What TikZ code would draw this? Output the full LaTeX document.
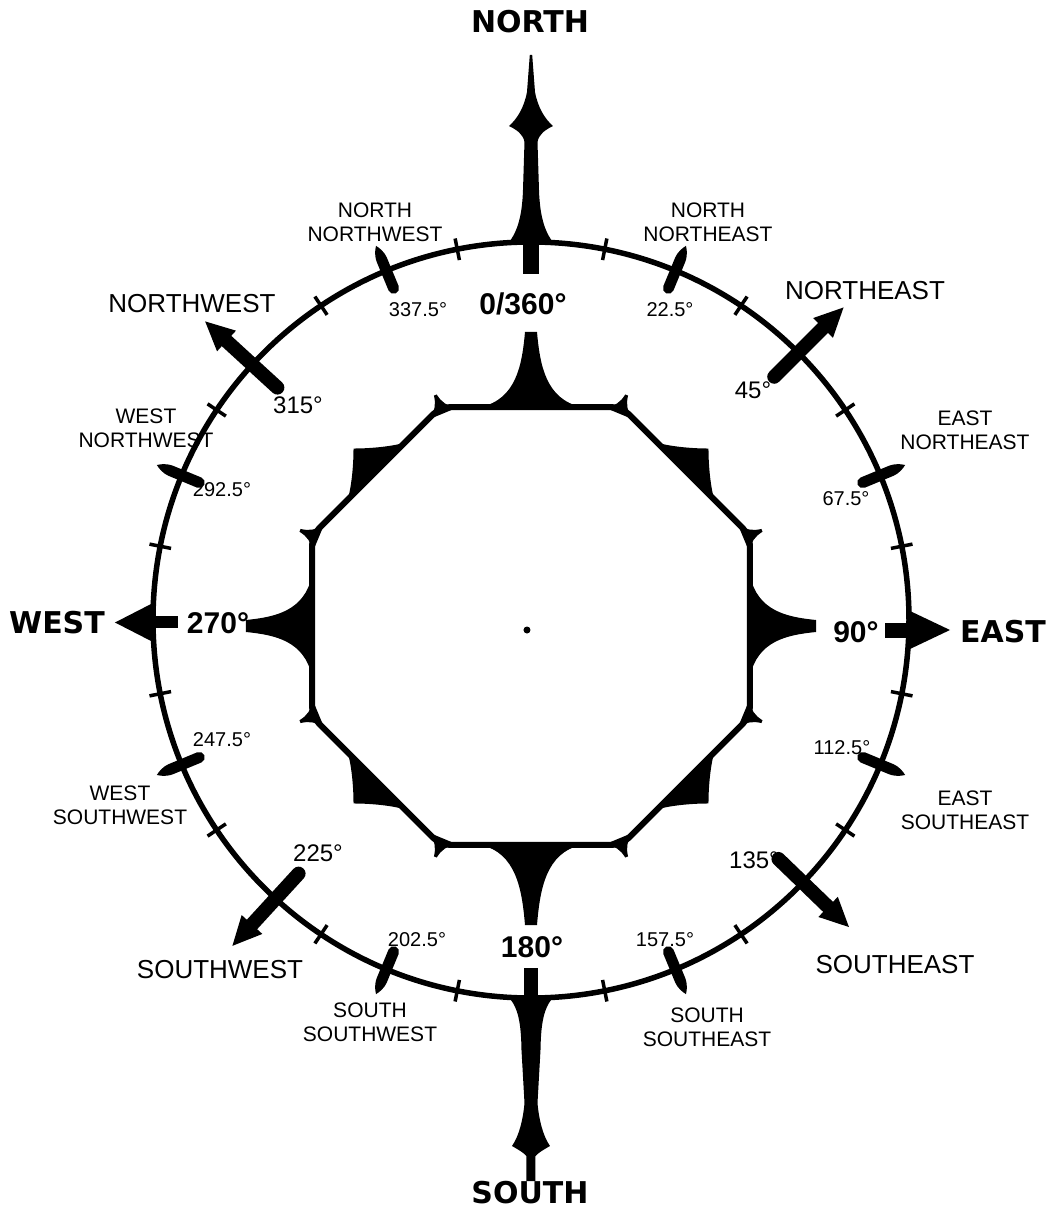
\documentclass[tikz,border=0pt]{standalone}
\usepackage{fontspec}
\setmainfont{Liberation Sans}
\newfontfamily\blackfont{DejaVu Sans Bold}
\usetikzlibrary{positioning}

\begin{document}
\begin{tikzpicture}[
x=1pt, y=1pt,
every node/.style={inner sep=0, align=center},
cardinal/.style={font=\blackfont\fontsize{30}{30}\selectfont},
bigdeg/.style={font=\bfseries\fontsize{30}{30}\selectfont},
point/.style={font=\fontsize{26}{30}\selectfont},
deg/.style={font=\fontsize{24}{24}\selectfont},
halfdeg/.style={font=\fontsize{20}{20}\selectfont},
halfpoint/.style={font=\fontsize{21}{24}\selectfont},
ring/.style={line width=5.5pt},
tickmark/.style={line width=3.5pt},
]
\useasboundingbox (-531,620) rectangle (522,-590);

% ring and its ticks
\draw[ring] (0,0) circle (378);
\foreach \b in {11.25,33.75,...,360} \draw[tickmark] (90-\b:367) -- (90-\b:389);
\foreach \b in {22.5,67.5,...,360}
  \fill[rotate=90-\b] (359,-5.5) -- (390,-5.5) .. controls (398,-5) and (402,-2) .. (405,0)
    .. controls (402,2) and (398,5) .. (390,5.5) -- (359,5.5) arc (90:270:5.5) -- cycle;

% intercardinal arrows
\foreach \b in {45,134,222.5,312.5} {
  \draw[line width=14pt, line cap=round, rotate=90-\b] (344,0) -- (418,0);
  \fill[rotate=90-\b] (413,-14) -- (442,0) -- (413,14) -- cycle;
}

% north arrow
\fill (-8,346) rectangle (8,380);
\fill (-24,375) .. controls (-15,386) and (-9,400) .. (-8,430) -- (-6.5,478)
  .. controls (-8,486) and (-14,490) .. (-22,494) .. controls (-14,501) and (-7,512) .. (-4,528)
  -- (-1.2,565) -- (1.2,565) -- (4,528) .. controls (7,512) and (14,501) .. (22,494)
  .. controls (14,490) and (8,486) .. (6.5,478) -- (8,430) .. controls (9,400) and (15,386) .. (24,375) -- cycle;

% south arrow
\fill (-7,-348) rectangle (7,-380);
\fill (-24,-375) .. controls (-14,-386) and (-10,-398) .. (-9.5,-430) -- (-6.5,-483)
  .. controls (-8,-500) and (-12,-516) .. (-19,-526) .. controls (-12,-530) and (-7,-533) .. (-4.5,-536)
  -- (-4.5,-561) -- (4.5,-561) -- (4.5,-536) .. controls (7,-533) and (12,-530) .. (19,-526)
  .. controls (12,-516) and (8,-500) .. (6.5,-483) -- (9.5,-430) .. controls (10,-398) and (14,-386) .. (24,-375) -- cycle;

% east and west arrows
\fill (354,-17.5) rectangle (382,-2.5);
\fill (379,9) -- (419,-10) -- (379,-29) -- cycle;
\fill (-353,-8) rectangle (-381,4);
\fill (-378,17) -- (-416,-2.5) -- (-378,-22) -- cycle;

% octagon with its spikes
\begin{scope}[shift={(0,-6)}]
\draw[line width=6pt, rounded corners=10pt] (0:219)
  \foreach \k in {0,...,7} { -- (22.5+45*\k:237) } -- cycle;
\foreach \a/\h in {0/66,90/75,180/66,270/80}
  \fill[rotate=\a] (219,-50) .. controls (227,-15) and ({219+0.55*\h},-9) .. ({219+\h},-6) -- ({219+\h},6)
    .. controls ({219+0.55*\h},9) and (227,15) .. (219,50) -- cycle;
\foreach \a in {45,135,225,315}
  \fill[rotate=\a] (219,-40) .. controls (226,-28) and (238,-13) .. (251,0)
    .. controls (238,13) and (226,28) .. (219,40) -- cycle;
\foreach \a in {22.5,67.5,...,360}
  \fill[rotate=\a] (230,-15) .. controls (236,-6) and (241,-3) .. (250,-1.5) -- (250,1.5)
    .. controls (241,3) and (236,6) .. (230,15) -- cycle;
\end{scope}
\fill (-4,-10) circle (3.5);

% labels
\node[cardinal] (north) at (-1,598) {NORTH};
\node[cardinal] (south) at (-1,-573) {SOUTH};
\node[cardinal] (west) at (-474,-3) {WEST};
\node[cardinal] (east) at (472,-12) {EAST};
\node[bigdeg] (d0) at (-8,316) {0/360°};
\node[bigdeg] (d180) at (1,-327) {180°};
\node[bigdeg] (d270) at (-313,-3) {270°};
\node[bigdeg] (d90) at (325,-12) {90°};
\node[point] (nw) at (-339,316) {NORTHWEST};
\node[point] (ne) at (334,329) {NORTHEAST};
\node[point] (sw) at (-311,-350) {SOUTHWEST};
\node[point] (se) at (364,-345) {SOUTHEAST};
\node[deg] (d315) at (-233,215) {315°};
\node[deg] (d45) at (222,230) {45°};
\node[deg] (d225) at (-213,-233) {225°};
\node[deg] (d135) at (223,-240) {135°};
\node[halfdeg] (dnnw) at (-113,310) {337.5°};
\node[halfdeg] (dnne) at (139,310) {22.5°};
\node[halfdeg] (dwnw) at (-309,130) {292.5°};
\node[halfdeg] (dene) at (315,121) {67.5°};
\node[halfdeg] (dwsw) at (-309,-120) {247.5°};
\node[halfdeg] (dese) at (311,-128) {112.5°};
\node[halfdeg] (dssw) at (-114,-320) {202.5°};
\node[halfdeg] (dsse) at (134,-320) {157.5°};
\node[halfpoint] (nnw) at (-156,398) {NORTH\\NORTHWEST};
\node[halfpoint] (nne) at (177,398) {NORTH\\NORTHEAST};
\node[halfpoint] (wnw) at (-385,192) {WEST\\NORTHWEST};
\node[halfpoint] (ene) at (434,190) {EAST\\NORTHEAST};
\node[halfpoint] (wsw) at (-411,-185) {WEST\\SOUTHWEST};
\node[halfpoint] (ese) at (434,-190) {EAST\\SOUTHEAST};
\node[halfpoint] (ssw) at (-161,-402) {SOUTH\\SOUTHWEST};
\node[halfpoint] (sse) at (176,-407) {SOUTH\\SOUTHEAST};
\end{tikzpicture}
\end{document}
